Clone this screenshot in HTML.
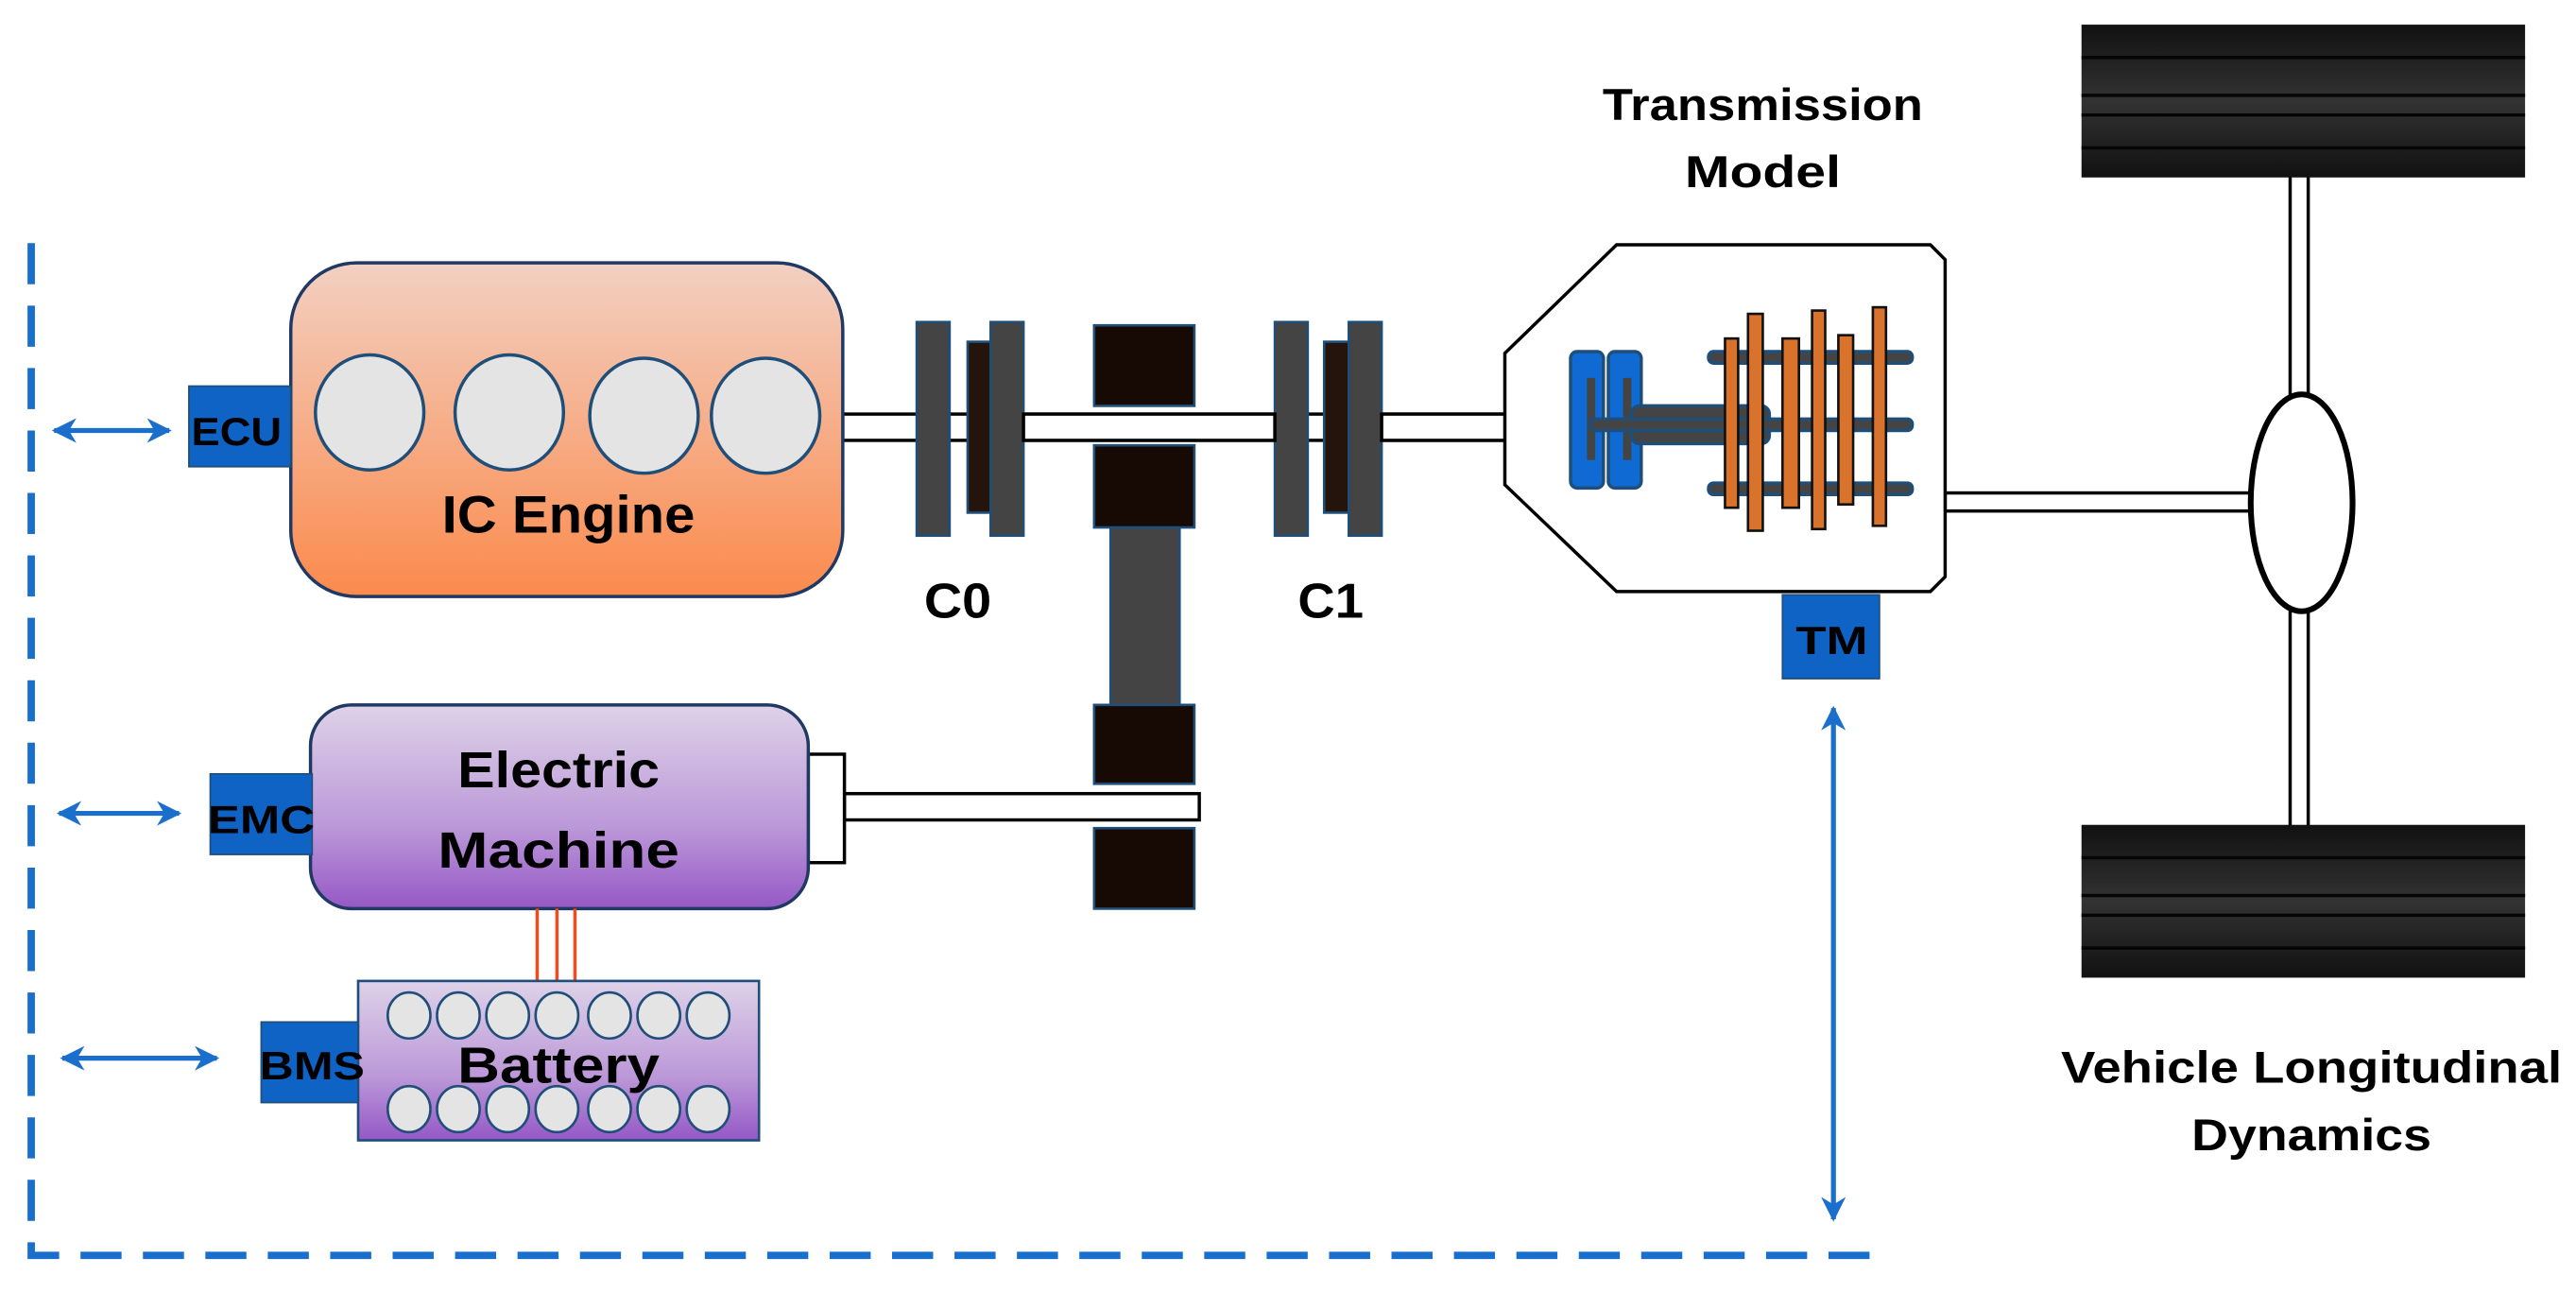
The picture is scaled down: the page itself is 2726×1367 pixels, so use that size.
<!DOCTYPE html>
<html><head><meta charset="utf-8"><style>
html,body{margin:0;padding:0;background:#fff;}
svg{display:block;}
text{font-family:"Liberation Sans",sans-serif;font-weight:bold;fill:#000;}
</style></head><body>
<svg width="2726" height="1367" viewBox="0 0 1568 786.3" preserveAspectRatio="none" xmlns="http://www.w3.org/2000/svg">
<defs>
<linearGradient id="eng" x1="0" y1="0" x2="0" y2="1"><stop offset="0" stop-color="#f2d0c2"/><stop offset="1" stop-color="#fb8a4c"/></linearGradient>
<linearGradient id="em" x1="0" y1="0" x2="0" y2="1"><stop offset="0" stop-color="#ded2e8"/><stop offset="0.6" stop-color="#bb98d8"/><stop offset="1" stop-color="#9558c6"/></linearGradient>
<linearGradient id="tire" x1="0" y1="0" x2="0" y2="1"><stop offset="0" stop-color="#111"/><stop offset="0.5" stop-color="#333"/><stop offset="1" stop-color="#111"/></linearGradient>
<marker id="ah" viewBox="0 0 10 10" refX="9" refY="5" markerWidth="5" markerHeight="5" orient="auto-start-reverse"><path d="M0,0L10,5L0,10L3,5z" fill="#1a6fcc"/></marker>
</defs>
<path d="M19,148 L19,764 L1146,764" fill="none" stroke="#1a6fcc" stroke-width="4.5" stroke-dasharray="25,13"/>
<g stroke="#1a6fcc" stroke-width="3" fill="none" marker-start="url(#ah)" marker-end="url(#ah)">
<line x1="33" y1="262" x2="103" y2="262"/>
<line x1="36" y1="495" x2="109" y2="495"/>
<line x1="38" y1="644" x2="132" y2="644"/>
<line x1="1116" y1="431" x2="1116" y2="742"/>
</g>
<rect x="513" y="252" width="444" height="16" fill="#fff" stroke="#000" stroke-width="2"/>
<rect x="514" y="483" width="216" height="16" fill="#fff" stroke="#000" stroke-width="2"/>
<rect x="492" y="459" width="22" height="66" fill="#fff" stroke="#000" stroke-width="2"/>
<rect x="1184" y="300" width="186" height="11" fill="#fff" stroke="#000" stroke-width="2"/>
<rect x="1394" y="105" width="11" height="140" fill="#fff" stroke="#000" stroke-width="2"/>
<rect x="1394" y="370" width="11" height="135" fill="#fff" stroke="#000" stroke-width="2"/>
<rect x="177" y="160" width="336" height="203" rx="40" fill="url(#eng)" stroke="#1f3864" stroke-width="2"/>
<g fill="#e4e4e4" stroke="#1f4e79" stroke-width="2">
<ellipse cx="225" cy="251" rx="33" ry="35"/><ellipse cx="310" cy="251" rx="33" ry="35"/><ellipse cx="392" cy="253" rx="33" ry="35"/><ellipse cx="466" cy="253" rx="33" ry="35"/>
</g>
<text x="346" y="324" font-size="32" text-anchor="middle" textLength="154" lengthAdjust="spacingAndGlyphs">IC Engine</text>
<rect x="115" y="235" width="62" height="49" fill="#0f63c4" stroke="#1f4e79"/>
<text x="144" y="271" font-size="24" text-anchor="middle" textLength="55" lengthAdjust="spacingAndGlyphs">ECU</text>
<g stroke="#1f4e79" stroke-width="1.5">
<rect x="558" y="196" width="20" height="130" fill="#444"/>
<rect x="589" y="208" width="16" height="104" fill="#24140c"/>
<rect x="603" y="196" width="20" height="130" fill="#444"/>
<rect x="776" y="196" width="20" height="130" fill="#444"/>
<rect x="806" y="208" width="17" height="104" fill="#24140c"/>
<rect x="821" y="196" width="20" height="130" fill="#444"/>
<rect x="676" y="321" width="42" height="110" fill="#444"/>
<rect x="666" y="198" width="61" height="49" fill="#170a05"/>
<rect x="666" y="271" width="61" height="50" fill="#170a05"/>
<rect x="666" y="429" width="61" height="48" fill="#170a05"/>
<rect x="666" y="504" width="61" height="49" fill="#170a05"/>
</g>
<rect x="623" y="252" width="153" height="16" fill="#fff" stroke="#000" stroke-width="2"/>
<rect x="841" y="252" width="116" height="16" fill="#fff" stroke="#000" stroke-width="2"/>
<text x="583" y="376" font-size="30" text-anchor="middle" textLength="41" lengthAdjust="spacingAndGlyphs">C0</text>
<text x="810" y="376" font-size="30" text-anchor="middle" textLength="40" lengthAdjust="spacingAndGlyphs">C1</text>
<rect x="189" y="429" width="303" height="124" rx="25" fill="url(#em)" stroke="#1f3864" stroke-width="2"/>
<text x="340" y="479" font-size="31" text-anchor="middle" textLength="123" lengthAdjust="spacingAndGlyphs">Electric</text>
<text x="340" y="528" font-size="31" text-anchor="middle" textLength="147" lengthAdjust="spacingAndGlyphs">Machine</text>
<rect x="128" y="471" width="62" height="49" fill="#0f63c4" stroke="#1f4e79"/>
<text x="159" y="507" font-size="24" text-anchor="middle" textLength="65" lengthAdjust="spacingAndGlyphs">EMC</text>
<g stroke="#f24a1a" stroke-width="2"><line x1="327" y1="553" x2="327" y2="597"/><line x1="339" y1="553" x2="339" y2="597"/><line x1="350" y1="553" x2="350" y2="597"/></g>
<rect x="218" y="597" width="244" height="97" fill="url(#em)" stroke="#1f4e79" stroke-width="1.5"/>
<g fill="#e4e4e4" stroke="#1f4e79" stroke-width="1.5">
<ellipse cx="249" cy="618" rx="13" ry="14"/><ellipse cx="279" cy="618" rx="13" ry="14"/><ellipse cx="309" cy="618" rx="13" ry="14"/><ellipse cx="339" cy="618" rx="13" ry="14"/><ellipse cx="371" cy="618" rx="13" ry="14"/><ellipse cx="401" cy="618" rx="13" ry="14"/><ellipse cx="431" cy="618" rx="13" ry="14"/>
<ellipse cx="249" cy="675" rx="13" ry="14"/><ellipse cx="279" cy="675" rx="13" ry="14"/><ellipse cx="309" cy="675" rx="13" ry="14"/><ellipse cx="339" cy="675" rx="13" ry="14"/><ellipse cx="371" cy="675" rx="13" ry="14"/><ellipse cx="401" cy="675" rx="13" ry="14"/><ellipse cx="431" cy="675" rx="13" ry="14"/>
</g>
<text x="340" y="659" font-size="31" text-anchor="middle" textLength="123" lengthAdjust="spacingAndGlyphs">Battery</text>
<rect x="159" y="622" width="59" height="49" fill="#0f63c4" stroke="#1f4e79"/>
<text x="190" y="657" font-size="24" text-anchor="middle" textLength="64" lengthAdjust="spacingAndGlyphs">BMS</text>
<text x="1073" y="73" font-size="27" text-anchor="middle" textLength="195" lengthAdjust="spacingAndGlyphs">Transmission</text>
<text x="1073" y="114" font-size="27" text-anchor="middle" textLength="95" lengthAdjust="spacingAndGlyphs">Model</text>
<polygon points="984,149 1175,149 1184,158 1184,351 1175,360 984,360 916,295 916,215" fill="#fff" stroke="#000" stroke-width="2"/>
<g stroke="#1f4e79" stroke-width="2">
<rect x="956" y="214" width="20" height="83" rx="4" fill="#0f6ad4"/>
<rect x="979" y="214" width="20" height="83" rx="4" fill="#0f6ad4"/>
<rect x="966" y="230" width="5" height="50" fill="#444" stroke="none"/>
<rect x="988" y="230" width="5" height="50" fill="#444" stroke="none"/>
<rect x="993" y="247" width="84" height="23" rx="5" fill="#444"/>
<rect x="1040" y="214" width="124" height="7" rx="3" fill="#444"/>
<rect x="968" y="255" width="196" height="7" rx="3" fill="#444"/>
<rect x="1040" y="294" width="124" height="7" rx="3" fill="#444"/>
</g>
<g fill="#d9722a" stroke="#111" stroke-width="1.5">
<rect x="1050" y="206" width="8" height="103"/>
<rect x="1064" y="191" width="9" height="132"/>
<rect x="1085" y="206" width="10" height="103"/>
<rect x="1103" y="189" width="8" height="133"/>
<rect x="1119" y="204" width="9" height="103"/>
<rect x="1140" y="187" width="8" height="133"/>
</g>
<rect x="1085" y="362" width="59" height="51" fill="#0f63c4" stroke="#1f4e79"/>
<text x="1115" y="398" font-size="24" text-anchor="middle" font-weight="normal" textLength="44" lengthAdjust="spacingAndGlyphs">TM</text>
<ellipse cx="1401" cy="306" rx="31" ry="66" fill="#fff" stroke="#000" stroke-width="3.5"/>
<rect x="1267" y="15" width="270" height="93" fill="url(#tire)"/>
<rect x="1267" y="502" width="270" height="93" fill="url(#tire)"/>
<g stroke="#050505" stroke-width="2">
<line x1="1267" y1="35" x2="1537" y2="35"/><line x1="1267" y1="58" x2="1537" y2="58"/><line x1="1267" y1="70" x2="1537" y2="70"/><line x1="1267" y1="90" x2="1537" y2="90"/>
<line x1="1267" y1="522" x2="1537" y2="522"/><line x1="1267" y1="545" x2="1537" y2="545"/><line x1="1267" y1="557" x2="1537" y2="557"/><line x1="1267" y1="577" x2="1537" y2="577"/>
</g>
<text x="1407" y="659" font-size="27" text-anchor="middle" textLength="305" lengthAdjust="spacingAndGlyphs">Vehicle Longitudinal</text>
<text x="1407" y="700" font-size="27" text-anchor="middle" textLength="146" lengthAdjust="spacingAndGlyphs">Dynamics</text>
</svg>
</body></html>
